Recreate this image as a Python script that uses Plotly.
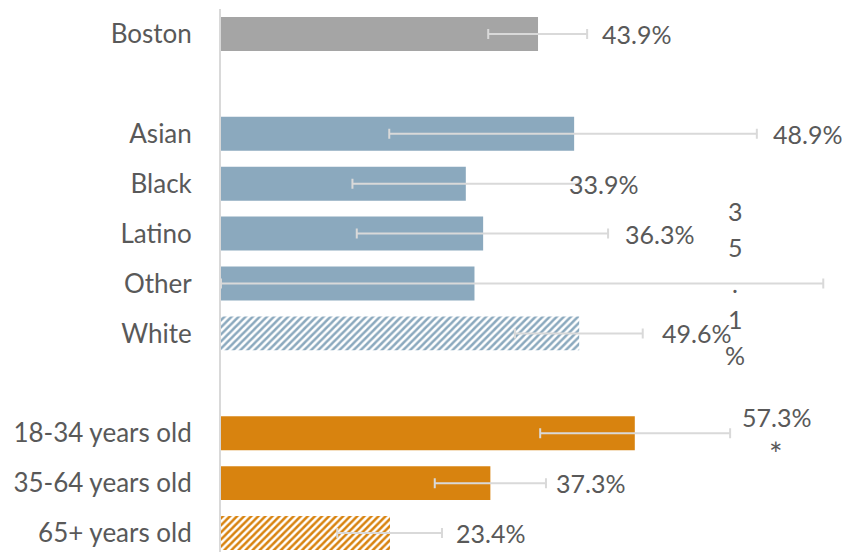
import plotly.graph_objects as go

# rows of the chart, blank names are spacer rows between the groups
categories = ["Boston", " ", "Asian", "Black", "Latino", "Other", "White", "  ",
              "18-34 years old", "35-64 years old", "65+ years old"]
values = [43.9, None, 48.9, 33.9, 36.3, 35.1, 49.6, None, 57.3, 37.3, 23.4]
err_plus = [6.8, None, 25.3, 15.7, 17.3, 48.3, 8.8, None, 13.2, 7.7, 7.2]
err_minus = [6.9, None, 25.6, 15.7, 17.5, 35.1, 8.9, None, 13.1, 7.7, 7.3]
labels = ["43.9%", "", "48.9%", "33.9%", "36.3%", "35.1%", "49.6%", "",
          "57.3%*", "37.3%", "23.4%"]
hatched = [False, False, False, False, False, False, True, False, False, False, True]

# where the value labels sit (in axis units), they were hand placed in the original
label_pos = [52.5, None, 76.2, 47.9, 55.7, 71.2, 60.8, None, 76.9, 46.1, 32.3]

GRAY = "#A5A5A5"
BLUE = "#8BA9BE"
ORANGE = "#D8830F"
colors = [GRAY, GRAY, BLUE, BLUE, BLUE, BLUE, BLUE, ORANGE, ORANGE, ORANGE, ORANGE]

FONT = "Lato"
TXT = "#595959"
FS = 26     # category labels
LFS = 25    # value labels

fig = go.Figure()
for i in range(len(categories)):
    if values[i] is None:
        # spacer row, empty bar keeps the category on the axis
        fig.add_trace(go.Bar(y=[categories[i]], x=[None], orientation="h"))
        continue
    if hatched[i]:
        pattern = dict(shape="/", fillmode="replace", fgcolor=colors[i],
                       bgcolor="white", size=5, solidity=0.5)
    else:
        pattern = dict(shape="")
    fig.add_trace(go.Bar(
        y=[categories[i]], x=[values[i]], orientation="h",
        width=0.68,
        marker=dict(color=colors[i], line=dict(width=0), pattern=pattern),
        error_x=dict(type="data", symmetric=False, array=[err_plus[i]],
                     arrayminus=[err_minus[i]],
                     color="#D9D9D9", thickness=2, width=5),
        hoverinfo="skip",
    ))

for cat, lab, pos in zip(categories, labels, label_pos):
    if not lab:
        continue
    if cat == "Other":
        # label was squeezed into a narrow box so it wraps one char per line
        for k, ch in enumerate(lab):
            fig.add_annotation(x=pos, y=cat, text=ch, showarrow=False,
                               xanchor="center", yshift=(2 - k) * 36,
                               font=dict(family=FONT, size=LFS, color=TXT))
    elif lab.endswith("*"):
        fig.add_annotation(x=pos, y=cat, text=lab[:-1], showarrow=False,
                           xanchor="center", yshift=16,
                           font=dict(family=FONT, size=LFS, color=TXT))
        fig.add_annotation(x=pos, y=cat, text="*", showarrow=False,
                           xanchor="center", yshift=-20,
                           font=dict(family=FONT, size=32, color=TXT))
    else:
        fig.add_annotation(x=pos, y=cat, text=lab, showarrow=False,
                           xanchor="left", font=dict(family=FONT, size=LFS, color=TXT))

# page body has an 8px margin, so the figure is 8px smaller than the window
fig.update_layout(
    width=842, height=544,
    margin=dict(l=213, r=0, t=1, b=0),
    paper_bgcolor="#fff", plot_bgcolor="#fff",
    showlegend=False, barmode="overlay",
    font=dict(family=FONT, size=FS, color=TXT),
)
fig.update_xaxes(range=[0, 87.1], visible=False)
fig.update_yaxes(type="category", categoryorder="array", categoryarray=categories,
                 range=[10.38, -0.5], showline=True, linecolor="#D9D9D9", linewidth=2,
                 showgrid=False, zeroline=False, ticks="", ticklabelstandoff=22,
                 tickfont=dict(family=FONT, size=FS, color=TXT))

fig.write_html("out.html")
